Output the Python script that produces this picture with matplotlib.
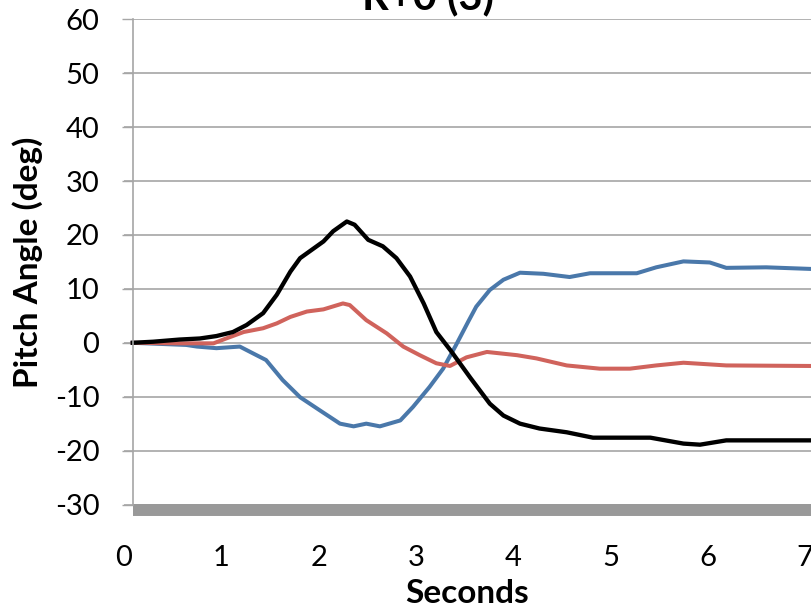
import matplotlib.pyplot as plt

plt.rcParams['font.family'] = ['Lato', 'DejaVu Sans']
plt.rcParams['axes.unicode_minus'] = False

t_black = [0.09, 0.30, 0.57, 0.78, 0.95, 1.12, 1.26, 1.43, 1.57, 1.71, 1.81, 2.05, 2.15, 2.29,
           2.37, 2.51, 2.66, 2.80, 2.94, 3.08, 3.21, 3.36, 3.56, 3.76, 3.90, 4.07, 4.27, 4.55,
           4.82, 5.41, 5.75, 5.92, 6.19, 7.06]
v_black = [0, 0.2, 0.6, 0.8, 1.25, 2.0, 3.3, 5.5, 8.9, 13.2, 15.7, 18.8, 20.7, 22.5,
           21.9, 19.1, 17.9, 15.7, 12.3, 7.3, 2.0, -1.5, -6.5, -11.3, -13.5, -15.0, -15.9, -16.6,
           -17.6, -17.6, -18.7, -18.9, -18.1, -18.1]

t_red = [0.09, 0.57, 0.92, 1.05, 1.23, 1.43, 1.57, 1.71, 1.88, 2.05, 2.25, 2.32, 2.49, 2.70,
         2.87, 3.04, 3.21, 3.35, 3.52, 3.73, 4.04, 4.24, 4.55, 4.89, 5.20, 5.47, 5.75, 6.19, 7.06]
v_red = [0, -0.1, -0.1, 0.8, 2.0, 2.7, 3.6, 4.8, 5.8, 6.2, 7.3, 7.0, 4.2, 1.75,
         -0.7, -2.3, -3.8, -4.3, -2.7, -1.7, -2.3, -2.9, -4.2, -4.8, -4.8, -4.2, -3.7, -4.2, -4.3]

t_blue = [0.09, 0.64, 0.75, 0.95, 1.19, 1.33, 1.46, 1.63, 1.81, 2.01, 2.22, 2.36, 2.49, 2.63,
          2.84, 2.97, 3.14, 3.28, 3.41, 3.54, 3.62, 3.76, 3.90, 4.07, 4.31, 4.58, 4.79, 5.27,
          5.47, 5.75, 6.02, 6.19, 6.60, 7.06]
v_blue = [0, -0.4, -0.7, -1.0, -0.7, -2.0, -3.2, -6.9, -10.1, -12.5, -15.0, -15.5, -15.0, -15.5,
          -14.4, -11.9, -8.2, -4.8, -0.5, 4.0, 6.7, 9.8, 11.7, 13.0, 12.8, 12.2, 12.9, 12.9,
          14.0, 15.1, 14.9, 13.9, 14.0, 13.7]

xticks = [0, 1, 2, 3, 4, 5, 6, 7]
yticks = [-30, -20, -10, 0, 10, 20, 30, 40, 50, 60]

grid_c = '#a6a6a6'

fig = plt.figure(figsize=(8.11, 6.08), dpi=100)
ax = fig.add_axes([0.1529, 0.1702, 0.847, 0.798])

ax.plot(t_blue, v_blue, color='#4a78aa', lw=2.9, solid_joinstyle='round')
ax.plot(t_red, v_red, color='#d0635c', lw=2.9, solid_joinstyle='round')
ax.plot(t_black, v_black, color='black', lw=3.1, solid_joinstyle='round')

ax.set_xlim(0, 7.06)
ax.set_ylim(-30, 60)
ax.set_xticks(xticks)
ax.set_yticks(yticks)

ax.yaxis.grid(True, color=grid_c, lw=1.2)
ax.set_axisbelow(True)

for s in ['top', 'right', 'bottom']:
    ax.spines[s].set_visible(False)
ax.spines['left'].set_position(('data', 0.09))
ax.spines['left'].set_color(grid_c)
ax.spines['left'].set_linewidth(1.2)

# grey floor under the plot
ax.plot([0.09, 7.2], [-31.1, -31.1], color='#999999', lw=8.6,
        solid_capstyle='butt', clip_on=False, zorder=1)

ax.tick_params(axis='y', length=8, width=1.0, color=grid_c, pad=16, labelsize=21)
ax.tick_params(axis='x', length=0, pad=29, labelsize=21)

ax.set_xlabel('Seconds', fontsize=24, fontweight='bold')
ax.xaxis.set_label_coords(0.5, -0.183)
ax.xaxis.label.set_va('center')
ax.set_ylabel('Pitch Angle (deg)', fontsize=24, fontweight='bold')
ax.yaxis.set_label_coords(-0.1397, 0.5)
ax.yaxis.label.set_va('center')

fig.text(428 / 811, 1 - 9 / 608, 'R+0 (3)', ha='center', va='baseline',
         fontsize=30, fontweight='bold')

fig.savefig('out.png', dpi=100)
